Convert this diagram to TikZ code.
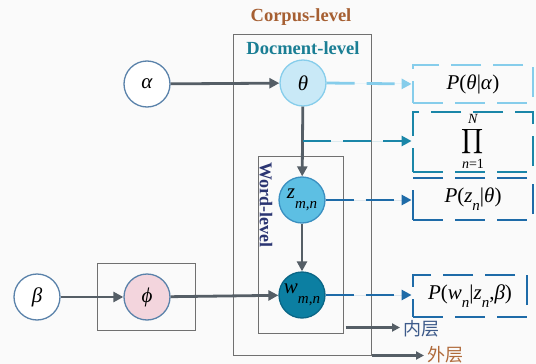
\documentclass[tikz,border=0pt]{standalone}
\usepackage{amsmath}
\usepackage{fontspec}
\setmainfont{Liberation Serif}
\newfontfamily\cjk{Noto Sans CJK SC}
\usetikzlibrary{arrows.meta,calc}
\newcommand{\iv}[1]{\textit{#1}}
\definecolor{bgc}{HTML}{FAFAFA}
\definecolor{arrc}{HTML}{555E66}
\definecolor{boxgray}{HTML}{707070}
\definecolor{ringc}{HTML}{5A82AA}
\definecolor{thfill}{HTML}{C9E9F7}
\definecolor{thring}{HTML}{86CDEB}
\definecolor{zfill}{HTML}{5DBFE3}
\definecolor{zring}{HTML}{3A8FC0}
\definecolor{wfill}{HTML}{0C7FA2}
\definecolor{wring}{HTML}{0A6686}
\definecolor{phfill}{HTML}{F3D5DD}
\definecolor{corpusc}{HTML}{A65F32}
\definecolor{docc}{HTML}{1A7E94}
\definecolor{wordc}{HTML}{2B3572}
\definecolor{lblue}{HTML}{86CDEB}
\definecolor{tealc}{HTML}{1A86A8}
\definecolor{dblue}{HTML}{1E6BA8}
\definecolor{neic}{HTML}{3D5A8A}
\definecolor{waic}{HTML}{B06A3A}
\begin{document}
\begin{tikzpicture}[x=1pt,y=-1pt,
  var/.style={circle,draw,line width=1.3pt,minimum size=46pt,inner sep=0pt,font=\fontsize{21}{21}\selectfont},
  plate/.style={draw=boxgray,line width=1pt,inner sep=0pt},
  garrow/.style={draw=arrc,line width=2.8pt,-{Triangle[width=10pt,length=10pt]}},
  darrow/.style={line width=2.8pt,dash pattern=on 28pt off 12pt,-{Triangle[width=10pt,length=10pt]}},
  dbox/.style={draw,line width=2.8pt,dash pattern=on 30pt off 12pt,inner sep=0pt,font=\fontsize{21}{21}\selectfont},
  limtxt/.style={inner sep=0pt,font=\fontsize{14}{14}\selectfont},
  smallarrow/.style={draw=arrc,line width=2.2pt,-{Triangle[width=8pt,length=8pt]}}
]
\useasboundingbox (0,0) rectangle (536,364);
\fill[bgc] (0,0) rectangle (536,364);
% plates
\node[plate,minimum width=138pt,minimum height=321pt] (outer) at (302,194.5) {};
\node[plate,minimum width=85pt,minimum height=177pt] (inner) at (300.5,244.5) {};
\node[plate,minimum width=98pt,minimum height=67pt] (phibox) at (146,296.5) {};
\node[font=\bfseries\fontsize{18.5}{18.5}\selectfont,text=corpusc] (corpus) at (301,17) {Corpus-level};
\node[font=\bfseries\fontsize{18.5}{18.5}\selectfont,text=docc] (doc) at (303,48) {Docment-level};
\node[font=\bfseries\fontsize{18}{18}\selectfont,text=wordc,rotate=-90] (word) at (266,205) {Word-level};
% variables
\node[var,draw=ringc,fill=white] (al) at (147,84) {\iv{α}};
\node[var,draw=thring,fill=thfill] (th) at (303,83) {\iv{θ}};
\node[var,draw=zring,fill=zfill] (z) at (302,200) {\iv{z}\raisebox{-0.45em}{\fontsize{15}{15}\selectfont\iv{m,n}}};
\node[var,draw=wring,fill=wfill] (w) at (302,295) {\iv{w}\raisebox{-0.45em}{\fontsize{15}{15}\selectfont\iv{m,n}}};
\node[var,draw=ringc,fill=white] (be) at (37,297) {\iv{β}};
\node[var,draw=ringc,fill=phfill] (ph) at (147,297) {\iv{ϕ}};
% solid arrows
\draw[garrow] (al) -- (th);
\draw[garrow] (th) -- (z);
\draw[garrow] (z) -- (w);
\draw[garrow] (be) -- (ph);
\draw[garrow] (ph) -- (w);
% dashed boxes
\node[dbox,draw=tealc,minimum width=120pt,minimum height=60pt] (prod) at (473,142) {};
\node[dbox,draw=lblue,minimum width=120pt,minimum height=38pt] (pa) at (473,84) {\iv{P}(\iv{θ}|\iv{α})};
\node[inner sep=0pt,font=\fontsize{16}{16}\selectfont] (pisym) at (473,142) {$\displaystyle\prod$};
\node[limtxt,anchor=south] (plim) at ($(pisym.north)+(0,-4)$) {\iv{N}};
\node[limtxt,anchor=north] (nlim) at ($(pisym.south)+(0,3)$) {\iv{n}=1};
\node[dbox,draw=dblue,minimum width=120pt,minimum height=42pt] (pz) at (473,199) {\iv{P}(\iv{z}\raisebox{-0.35em}{\fontsize{15}{15}\selectfont\iv{n}}|\iv{θ})};
\node[dbox,draw=dblue,minimum width=114pt,minimum height=42pt] (pw) at (470,296) {\iv{P}(\iv{w}\raisebox{-0.35em}{\fontsize{15}{15}\selectfont\iv{n}}|\iv{z}\raisebox{-0.35em}{\fontsize{15}{15}\selectfont\iv{n}},\iv{β})};
% dashed arrows
\coordinate (c1) at (303,141);
\draw[darrow,draw=lblue,fill=lblue] (th.east) -- (pa.west);
\draw[darrow,draw=tealc,fill=tealc] (c1) -- (prod.west |- c1);
\draw[darrow,draw=dblue,fill=dblue] (z.east) -- (pz.west |- z.east);
\draw[darrow,draw=dblue,fill=dblue] (w.east) -- (pw.west |- w.east);
% legend
\node[font=\cjk\fontsize{18}{18}\selectfont,text=neic,anchor=west] (nei) at (400,329) {内层};
\node[font=\cjk\fontsize{18}{18}\selectfont,text=waic,anchor=west] (wai) at (424,355) {外层};
\coordinate (n0) at ($(inner.south east)+(2,-6)$);
\draw[smallarrow] (n0) -- (nei.west |- n0);
\draw[smallarrow] (outer.south east) -- (wai.west |- outer.south east);
\end{tikzpicture}
\end{document}
